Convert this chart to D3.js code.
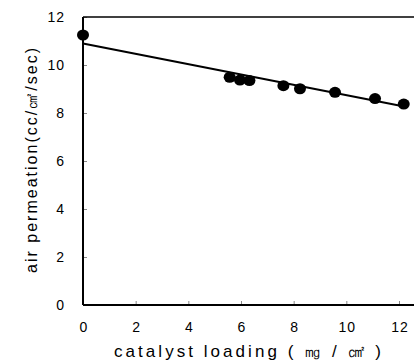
<!DOCTYPE html>
<html>
<head>
<meta charset="utf-8">
<script src="https://cdn.jsdelivr.net/npm/d3@7"></script>
<style>
  body { margin: 0; background: #fff; }
  svg { display: block; }
</style>
</head>
<body>
<svg id="chart" width="414" height="364"></svg>
<script>
// measured points
const loading = [0, 5.57, 5.96, 6.32, 7.61, 8.24, 9.57, 11.09, 12.18];
const permeation = [11.25, 9.49, 9.37, 9.35, 9.14, 9.01, 8.86, 8.6, 8.37];
// fitted line endpoints
const fitX = [0, 12.1];
const fitY = [10.9, 8.29];
const xTicks = [0, 2, 4, 6, 8, 10, 12];
const yTicks = [0, 2, 4, 6, 8, 10, 12];

const width = 414;
const height = 364;
const margin = { top: 17, right: 15, bottom: 59, left: 83 };

const svg = d3.select('#chart');
const font = '"Liberation Sans", Arial, sans-serif';

const x = d3.scaleLinear().domain([0, 12]).range([margin.left, width - margin.right]);
const y = d3.scaleLinear().domain([0, 12]).range([height - margin.bottom, margin.top]);

// inward tick marks
svg.append('g')
  .attr('transform', `translate(0,${y(0)})`)
  .call(d3.axisBottom(x).tickValues(xTicks).tickSize(-4).tickFormat(''))
  .call(g => g.select('.domain').remove())
  .call(g => g.selectAll('line').attr('stroke', '#888'));

svg.append('g')
  .attr('transform', `translate(${x(0)},0)`)
  .call(d3.axisLeft(y).tickValues(yTicks).tickSize(-4).tickFormat(''))
  .call(g => g.select('.domain').remove())
  .call(g => g.selectAll('line').attr('stroke', '#888'));

// frame: left, bottom and top (runs off the right edge)
svg.append('line')
  .attr('x1', x(0)).attr('x2', width)
  .attr('y1', y(0)).attr('y2', y(0))
  .attr('stroke', '#000').attr('stroke-width', 2);
svg.append('line')
  .attr('x1', x(0)).attr('x2', width)
  .attr('y1', y(12)).attr('y2', y(12))
  .attr('stroke', '#000').attr('stroke-width', 1.5);
svg.append('line')
  .attr('x1', x(0)).attr('x2', x(0))
  .attr('y1', y(12)).attr('y2', y(0))
  .attr('stroke', '#000').attr('stroke-width', 2);

// tick labels
svg.append('g').selectAll('text')
  .data(xTicks)
  .join('text')
  .attr('x', d => x(d) + 1)
  .attr('y', y(0) + 27)
  .attr('text-anchor', 'middle')
  .style('font-family', font)
  .style('font-size', '14px')
  .style('letter-spacing', '1px')
  .text(d => d);

svg.append('g').selectAll('text')
  .data(yTicks)
  .join('text')
  .attr('x', 65)
  .attr('y', d => y(d) + 5)
  .attr('text-anchor', 'end')
  .style('font-family', font)
  .style('font-size', '14px')
  .style('letter-spacing', '1px')
  .text(d => d);

// fit line
svg.append('line')
  .attr('x1', x(fitX[0])).attr('y1', y(fitY[0]))
  .attr('x2', x(fitX[1])).attr('y2', y(fitY[1]))
  .attr('stroke', '#000').attr('stroke-width', 2);

// points
svg.append('g').selectAll('ellipse')
  .data(loading.map((d, i) => [d, permeation[i]]))
  .join('ellipse')
  .attr('cx', d => x(d[0]))
  .attr('cy', d => y(d[1]))
  .attr('rx', 6)
  .attr('ry', 5.5)
  .attr('fill', '#000');

// axis titles
svg.append('text')
  .attr('x', 114)
  .attr('y', 357)
  .attr('textLength', 267)
  .attr('lengthAdjust', 'spacing')
  .style('font-family', font)
  .style('font-size', '17px')
  .text('catalyst loading ( ㎎ / ㎠ )');

svg.append('text')
  .attr('transform', 'translate(37,273) rotate(-90)')
  .attr('textLength', 225)
  .attr('lengthAdjust', 'spacing')
  .style('font-family', font)
  .style('font-size', '16px')
  .text('air permeation(cc/㎠/sec)');
</script>
</body>
</html>
